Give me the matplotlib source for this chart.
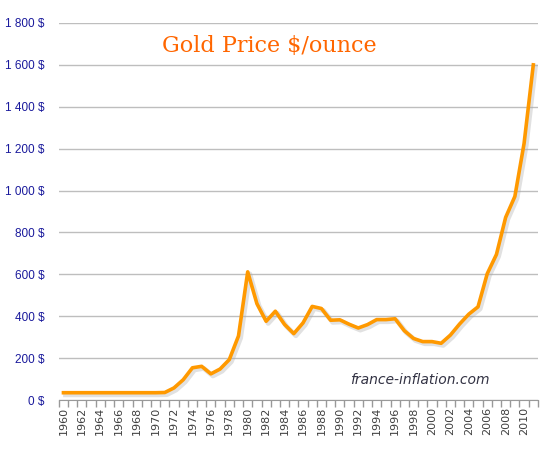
import numpy as np
import matplotlib
matplotlib.use("Agg")
import matplotlib.pyplot as plt
import matplotlib.patheffects as pe

# yearly average gold price, $/ounce
years = list(range(1960, 2012))
price = [35, 35, 35, 35, 35, 35, 35, 35, 35, 35,
         35, 36, 58, 97, 154, 161, 125, 148, 193, 306,
         612, 460, 376, 424, 361, 317, 368, 447, 437, 381,
         383, 362, 344, 360, 384, 384, 388, 331, 294, 279,
         279, 271, 310, 363, 410, 445, 603, 695, 872, 972,
         1225, 1600]
yticks = list(range(0, 2000, 200))
ytick_labels = ["0 $", "200 $", "400 $", "600 $", "800 $", "1 000 $",
                "1 200 $", "1 400 $", "1 600 $", "1 800 $"]

fig = plt.figure(figsize=(5.5, 4.5), dpi=100)
ax = fig.add_axes([0.107, 0.111, 0.871, 0.838])

x = np.arange(len(years))
ax.plot(x, price, color="#FF9900", lw=2.6, solid_joinstyle="round",
        path_effects=[pe.SimpleLineShadow(offset=(1.5, -1.5), shadow_color="#AAAAAA", alpha=0.35, linewidth=3.5),
                      pe.Normal()], zorder=3)

ax.set_xlim(-0.5, len(years) - 0.5)
ax.set_ylim(0, 1800)

# gridlines
ax.set_yticks(yticks)
ax.set_yticklabels(ytick_labels, color="#1A1A9C", fontsize=8.5, family="Liberation Sans")
ax.yaxis.grid(True, color="#BEBEBE", lw=1)
ax.set_axisbelow(True)
ax.tick_params(axis="y", length=0, pad=10)

# category axis: labels every 2 years, ticks between categories
lab_idx = [i for i, yr in enumerate(years) if yr % 2 == 0]
ax.set_xticks(lab_idx)
ax.set_xticklabels([str(years[i]) for i in lab_idx], rotation=90, fontsize=8, color="#404040")
ax.set_xticks(np.arange(len(years) + 1) - 0.5, minor=True)
ax.tick_params(axis="x", which="major", length=0, pad=5)
ax.tick_params(axis="x", which="minor", length=5, color="#999999", width=1)

for s in ["top", "right", "left"]:
    ax.spines[s].set_visible(False)
ax.spines["bottom"].set_color("#999999")

fig.text(0.49, 0.898, "Gold Price $/ounce", color="#FF6600", fontsize=16,
         family="DejaVu Serif", ha="center", va="center")
fig.text(0.636, 0.155, "france-inflation.com", color="#333344", fontsize=10,
         style="italic", ha="left", va="center")

fig.savefig("out.png", dpi=100)
